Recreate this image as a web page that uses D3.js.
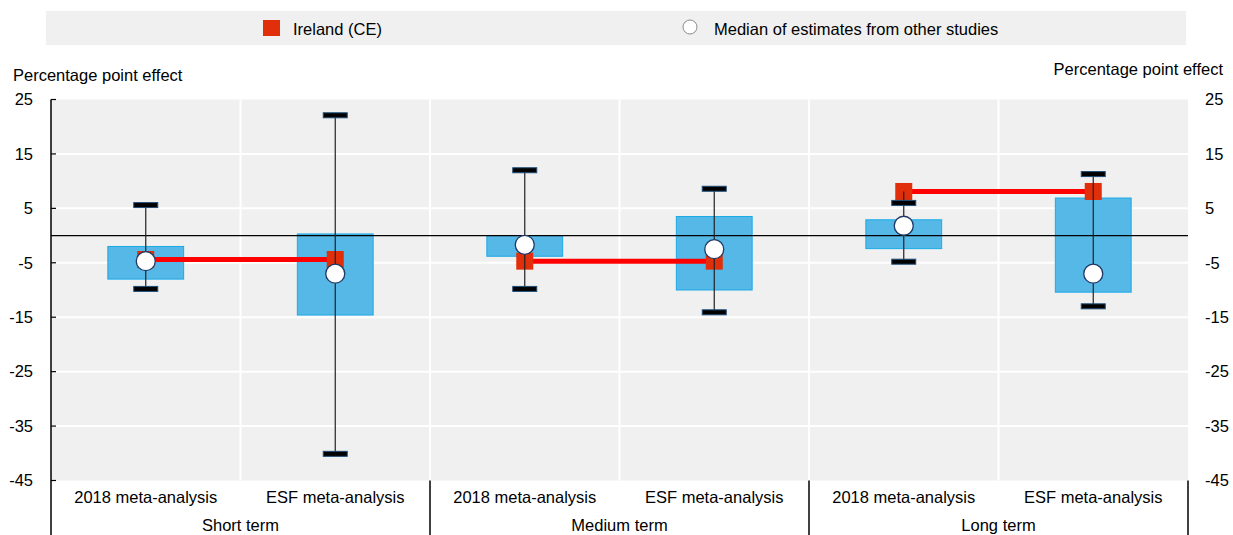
<!DOCTYPE html>
<html>
<head>
<meta charset="utf-8">
<script src="https://cdn.jsdelivr.net/npm/d3@7"></script>
<style>
  html, body { margin: 0; padding: 0; background: #fff; }
  svg { display: block; font-family: Arial, "Liberation Sans", sans-serif; }
</style>
</head>
<body>
<svg id="chart" width="1233" height="535"></svg>
<script>
// ---- data ----
const categories = ["2018 meta-analysis", "ESF meta-analysis", "2018 meta-analysis", "ESF meta-analysis", "2018 meta-analysis", "ESF meta-analysis"];
const groups = ["Short term", "Medium term", "Long term"];
const barHigh = [-2.0, 0.3, 0.0, 3.5, 2.9, 6.9];
const barLow = [-8.0, -14.6, -3.8, -10.0, -2.4, -10.4];
const capHigh = [5.6, 22.1, 12.0, 8.6, 6.0, 11.3];
const capLow = [-9.8, -40.1, -9.8, -14.1, -4.8, -13.0];
const medianOther = [-4.7, -7.0, -1.7, -2.5, 1.8, -7.0];
const ireland = [-4.4, -4.4, -4.7, -4.7, 8.1, 8.1];
const yTicks = [25, 15, 5, -5, -15, -25, -35, -45];
const legendLabels = ["Ireland (CE)", "Median of estimates from other studies"];
const axisTitle = "Percentage point effect";

(function () {
// ---- layout ----
const svg = d3.select("#chart");
const pLeft = 51, pRight = 1188, pTop = 99.5, pBottom = 480.5;
const idx = d3.range(categories.length);
const x = d3.scaleBand().domain(idx).range([pLeft, pRight]).padding(0);
const y = d3.scaleLinear().domain([-45, 25]).range([pBottom, pTop]);
const fontSize = 16.5;

// legend
svg.append("rect").attr("x", 46).attr("y", 11).attr("width", 1140).attr("height", 34).attr("fill", "#f0f0f0");
svg.append("rect").attr("x", 263).attr("y", 20).attr("width", 17).attr("height", 16).attr("fill", "#e02f0a");
svg.append("text").attr("x", 293).attr("y", 34.5).attr("font-size", fontSize).attr("fill", "#000").text(legendLabels[0]);
svg.append("circle").attr("cx", 690).attr("cy", 27).attr("r", 7).attr("fill", "#fff").attr("stroke", "#8a8a8a").attr("stroke-width", 1);
svg.append("text").attr("x", 714).attr("y", 34.5).attr("font-size", fontSize).attr("fill", "#000").text(legendLabels[1]);

// axis titles
svg.append("text").attr("x", 13).attr("y", 81).attr("font-size", fontSize).text(axisTitle);
svg.append("text").attr("x", 1223).attr("y", 75).attr("font-size", fontSize).attr("text-anchor", "end").text(axisTitle);

// plot background
svg.append("rect").attr("x", pLeft).attr("y", pTop).attr("width", pRight - pLeft).attr("height", pBottom - pTop).attr("fill", "#f0f0f0");

// horizontal gridlines
svg.append("g").selectAll("line").data(yTicks.filter(t => t !== 25 && t !== -45)).join("line")
  .attr("x1", pLeft).attr("x2", pRight)
  .attr("y1", d => y(d)).attr("y2", d => y(d))
  .attr("stroke", "#fff").attr("stroke-width", 2);

// vertical gridlines at band boundaries
svg.append("g").selectAll("line").data(idx.slice(1)).join("line")
  .attr("x1", d => x(d)).attr("x2", d => x(d))
  .attr("y1", pTop).attr("y2", pBottom)
  .attr("stroke", "#fff").attr("stroke-width", 2);

// bars
const bw = x.bandwidth() * 0.4;
svg.append("g").selectAll("rect").data(idx).join("rect")
  .attr("x", i => x(i) + x.bandwidth() / 2 - bw / 2)
  .attr("width", bw)
  .attr("y", i => y(barHigh[i]))
  .attr("height", i => y(barLow[i]) - y(barHigh[i]))
  .attr("fill", "#55b8e7")
  .attr("stroke", "#1aaae6").attr("stroke-width", 1);

// zero line
svg.append("line").attr("x1", pLeft).attr("x2", pRight).attr("y1", y(0)).attr("y2", y(0))
  .attr("stroke", "#000").attr("stroke-width", 1.2);

const cx = i => x(i) + x.bandwidth() / 2;

// Ireland connecting lines within groups
svg.append("g").selectAll("line").data(d3.range(groups.length)).join("line")
  .attr("x1", g => cx(2 * g)).attr("x2", g => cx(2 * g + 1))
  .attr("y1", g => y(ireland[2 * g])).attr("y2", g => y(ireland[2 * g + 1]))
  .attr("stroke", "#ff0000").attr("stroke-width", 5);

// Ireland squares
const sq = 17;
svg.append("g").selectAll("rect").data(idx).join("rect")
  .attr("x", i => cx(i) - sq / 2).attr("y", i => y(ireland[i]) - sq / 2)
  .attr("width", sq).attr("height", sq)
  .attr("fill", "#e02f0a");

// high-low lines
svg.append("g").selectAll("line").data(idx).join("line")
  .attr("x1", cx).attr("x2", cx)
  .attr("y1", i => y(Math.max(capHigh[i], ireland[i], medianOther[i])))
  .attr("y2", i => y(Math.min(capLow[i], ireland[i], medianOther[i])))
  .attr("stroke", "#222").attr("stroke-width", 1.2);

// caps
const capW = 24, capH = 5;
const caps = idx.flatMap(i => [{i, v: capHigh[i]}, {i, v: capLow[i]}]);
svg.append("g").selectAll("rect").data(caps).join("rect")
  .attr("x", d => cx(d.i) - capW / 2).attr("y", d => y(d.v) - capH / 2)
  .attr("width", capW).attr("height", capH)
  .attr("fill", "#000").attr("stroke", "#1f4e79").attr("stroke-width", 1);

// median circles
svg.append("g").selectAll("circle").data(idx).join("circle")
  .attr("cx", cx).attr("cy", i => y(medianOther[i])).attr("r", 9.5)
  .attr("fill", "#fff").attr("stroke", "#1f3864").attr("stroke-width", 1.3);

// left axis
svg.append("line").attr("x1", pLeft).attr("x2", pLeft).attr("y1", pTop).attr("y2", 535)
  .attr("stroke", "#000").attr("stroke-width", 1.5);
svg.append("g").selectAll("line").data(yTicks).join("line")
  .attr("x1", pLeft).attr("x2", pLeft + 5)
  .attr("y1", d => y(d)).attr("y2", d => y(d))
  .attr("stroke", "#000").attr("stroke-width", 1.2);
svg.append("g").selectAll("text").data(yTicks).join("text")
  .attr("x", 33).attr("y", d => y(d)).attr("dy", "0.35em")
  .attr("text-anchor", "end").attr("font-size", fontSize).text(d => d);
// right labels
svg.append("g").selectAll("text").data(yTicks).join("text")
  .attr("x", 1205).attr("y", d => y(d)).attr("dy", "0.35em")
  .attr("text-anchor", "start").attr("font-size", fontSize).text(d => d);

// category labels
svg.append("g").selectAll("text").data(idx).join("text")
  .attr("x", cx).attr("y", 503).attr("text-anchor", "middle").attr("font-size", fontSize)
  .text(i => categories[i]);
// group separators
svg.append("g").selectAll("line").data(d3.range(1, groups.length + 1)).join("line")
  .attr("x1", g => x(2 * g - 1) + x.bandwidth()).attr("x2", g => x(2 * g - 1) + x.bandwidth())
  .attr("y1", pBottom).attr("y2", 535)
  .attr("stroke", "#000").attr("stroke-width", 1.5);
// group labels
svg.append("g").selectAll("text").data(d3.range(groups.length)).join("text")
  .attr("x", g => x(2 * g + 1)).attr("y", 531).attr("text-anchor", "middle").attr("font-size", fontSize)
  .text(g => groups[g]);
})();
</script>
</body>
</html>
